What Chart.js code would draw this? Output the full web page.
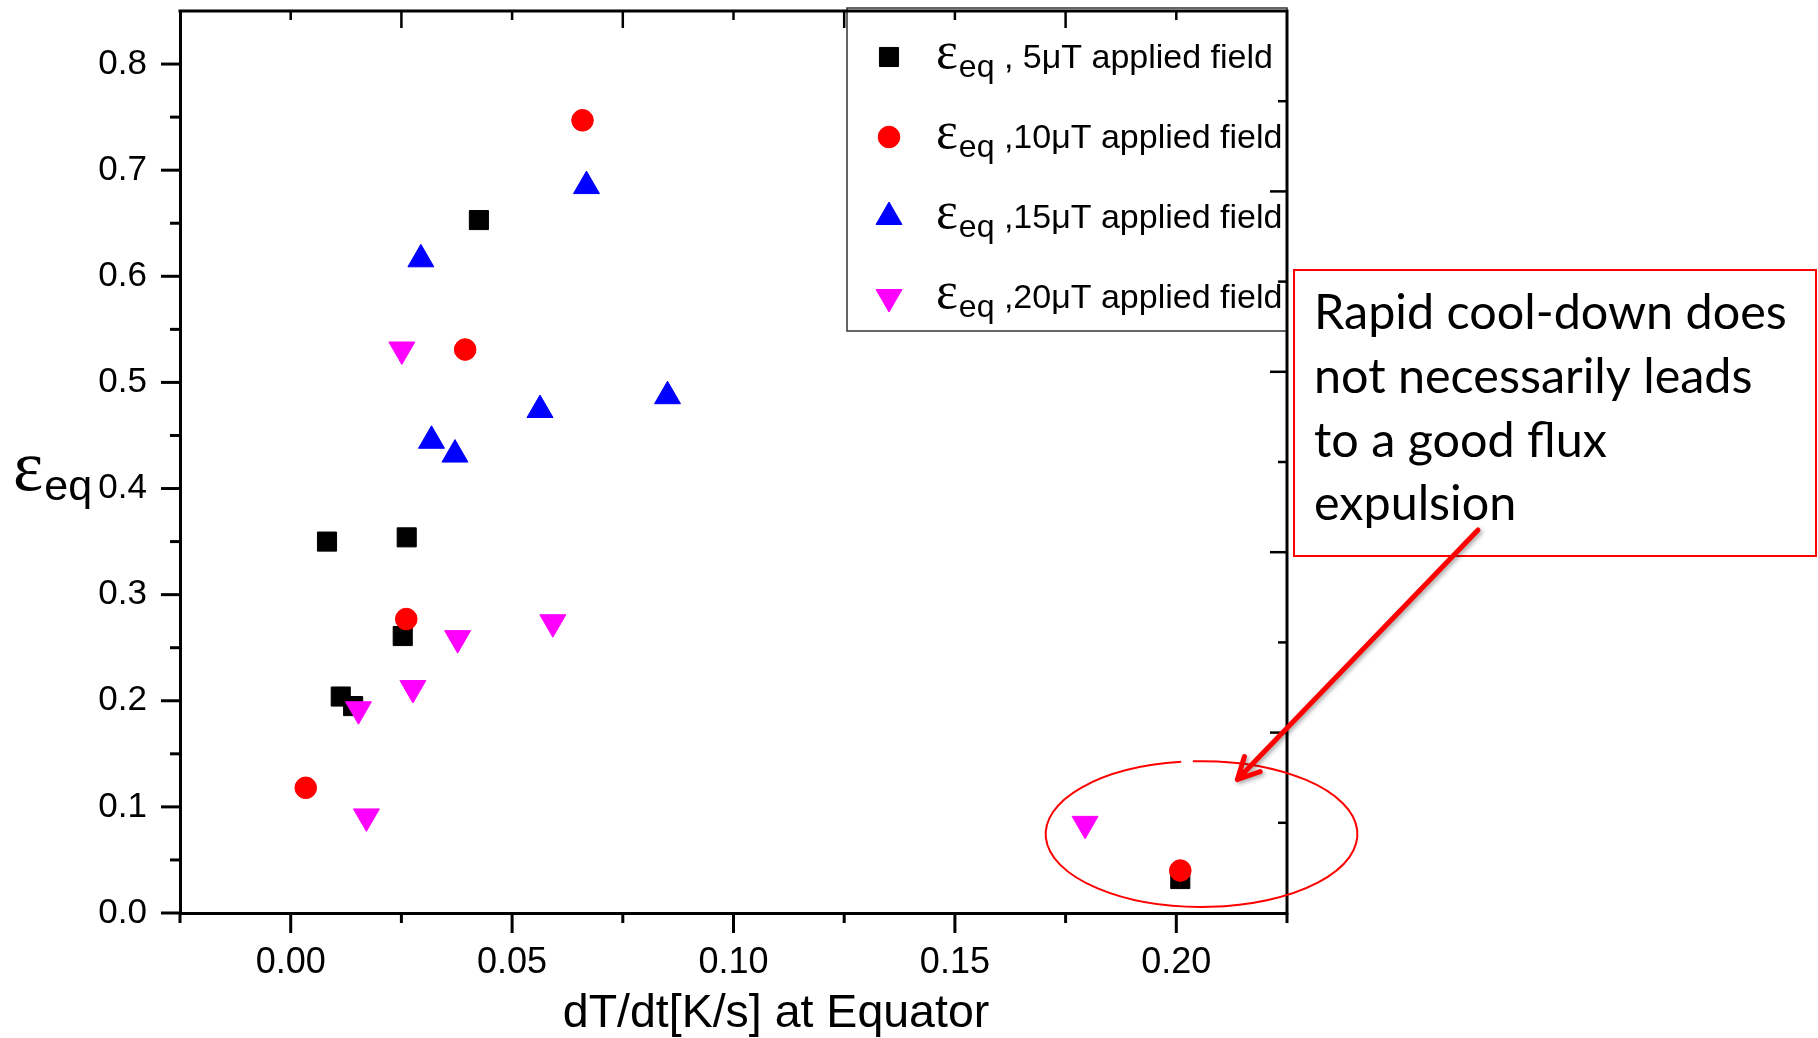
<!DOCTYPE html>
<html>
<head>
<meta charset="utf-8">
<script src="https://cdn.jsdelivr.net/npm/chart.js@4.4.1/dist/chart.umd.min.js"></script>
<style>
  html, body { margin: 0; padding: 0; background: #fff; }
  #wrap { width: 1818px; height: 1038px; position: relative; }
</style>
</head>
<body>
<div id="wrap"><canvas id="c" width="1818" height="1038"></canvas></div>
<script>
// Equatorial flux expulsion ratio vs. cool-down rate, one series per applied field
const field5X  = [0.0082, 0.0262, 0.0425, 0.0253, 0.0113, 0.0141, 0.2009];
const field5Y  = [0.350, 0.354, 0.653, 0.261, 0.204, 0.195, 0.032];
const field10X = [0.0659, 0.0394, 0.0261, 0.0034, 0.2009];
const field10Y = [0.747, 0.531, 0.277, 0.118, 0.040];
const field15X = [0.0668, 0.0294, 0.0563, 0.0851, 0.0318, 0.0371];
const field15Y = [0.685, 0.616, 0.474, 0.487, 0.445, 0.432];
const field20X = [0.0251, 0.0377, 0.0592, 0.0276, 0.0153, 0.0171, 0.1794];
const field20Y = [0.531, 0.259, 0.274, 0.212, 0.192, 0.091, 0.084];

const legendSuffix = [' , 5\u03BCT applied field', ' ,10\u03BCT applied field', ' ,15\u03BCT applied field', ' ,20\u03BCT applied field'];

// axis ticks
const xTickValues = [0, 0.05, 0.10, 0.15, 0.20];
const xTickLabels = ['0.00', '0.05', '0.10', '0.15', '0.20'];
const xMinorValues = [-0.025, 0.025, 0.075, 0.125, 0.175, 0.225];
const yTickValues = [0, 0.1, 0.2, 0.3, 0.4, 0.5, 0.6, 0.7, 0.8];
const yTickLabels = ['0.0', '0.1', '0.2', '0.3', '0.4', '0.5', '0.6', '0.7', '0.8'];
const yMinorValues = [0.05, 0.15, 0.25, 0.35, 0.45, 0.55, 0.65, 0.75];
// mirrored frame ticks (top and right edges)
const topLongValues = [0.025, 0.075, 0.125, 0.175];
const topShortValues = [0, 0.05, 0.10, 0.15, 0.20];
const rightLongValues = [0.170, 0.340, 0.510, 0.680];
const rightShortValues = [0.085, 0.255, 0.425, 0.595, 0.765];

// call-out
const noteLines = ['Rapid cool-down does', 'not necessarily leads', 'to a good flux', 'expulsion'];

const pts = (xs, ys) => xs.map((x, i) => ({ x, y: ys[i] }));

const SANS = '"Liberation Sans", Arial, sans-serif';
const SERIF = '"Liberation Serif", "Times New Roman", serif';

const styles = [
  { pointStyle: 'rect', radius: 13.5, rotation: 0, color: '#000000' },
  { pointStyle: 'circle', radius: 10.8, rotation: 0, color: '#ff0000' },
  { pointStyle: 'triangle', radius: 15, rotation: 0, color: '#0000ff' },
  { pointStyle: 'triangle', radius: 15, rotation: 180, color: '#ff00ff' }
];

const frame = {
  id: 'frame',
  afterDraw(chart) {
    const { ctx, chartArea: a, scales: { x, y } } = chart;
    ctx.save();

    // legend box
    const lgL = 847, lgT = 8, lgR = a.right, lgB = 331;
    ctx.fillStyle = '#fff';
    ctx.fillRect(lgL, lgT, lgR - lgL, lgB - lgT);
    ctx.strokeStyle = '#333';
    ctx.lineWidth = 1.5;
    ctx.strokeRect(lgL, lgT, lgR - lgL, lgB - lgT);

    const rowBase = [68, 148, 228, 308];
    styles.forEach((s, i) => {
      ctx.fillStyle = s.color;
      ctx.strokeStyle = s.color;
      ctx.lineWidth = 1;
      Chart.helpers.drawPoint(ctx, { pointStyle: s.pointStyle, radius: s.radius, rotation: s.rotation, borderWidth: 1 }, 889, rowBase[i] - 11);
      ctx.fillStyle = '#000';
      ctx.textBaseline = 'alphabetic';
      ctx.textAlign = 'left';
      let tx = 936;
      ctx.font = '52px ' + SERIF;
      ctx.fillText('\u03B5', tx, rowBase[i]);
      tx += ctx.measureText('\u03B5').width + 1;
      ctx.font = '32px ' + SANS;
      ctx.fillText('eq', tx, rowBase[i] + 9);
      tx += ctx.measureText('eq').width;
      ctx.font = '34px ' + SANS;
      ctx.fillText(legendSuffix[i], tx, rowBase[i]);
    });

    // top and right frame lines
    ctx.strokeStyle = '#000';
    ctx.lineWidth = 3;
    ctx.lineCap = 'square';
    ctx.beginPath();
    ctx.moveTo(a.left, a.top); ctx.lineTo(a.right, a.top); ctx.lineTo(a.right, a.bottom);
    ctx.stroke();
    ctx.lineCap = 'butt';

    const tick = (x1, y1, x2, y2) => { ctx.beginPath(); ctx.moveTo(x1, y1); ctx.lineTo(x2, y2); ctx.stroke(); };
    ctx.lineWidth = 3;
    // left axis (outward)
    yTickValues.forEach(v => { const p = y.getPixelForValue(v); tick(a.left - 19, p, a.left, p); });
    yMinorValues.forEach(v => { const p = y.getPixelForValue(v); tick(a.left - 10, p, a.left, p); });
    // bottom axis (outward)
    xTickValues.forEach(v => { const p = x.getPixelForValue(v); tick(p, a.bottom, p, a.bottom + 20); });
    xMinorValues.forEach(v => { const p = x.getPixelForValue(v); tick(p, a.bottom, p, a.bottom + 10); });
    // top edge (inward)
    ctx.lineWidth = 2.5;
    topLongValues.forEach(v => { const p = x.getPixelForValue(v); tick(p, a.top, p, a.top + 17); });
    topShortValues.forEach(v => { const p = x.getPixelForValue(v); tick(p, a.top, p, a.top + 9); });
    // right edge (inward)
    rightLongValues.forEach(v => { const p = y.getPixelForValue(v); tick(a.right - 17, p, a.right, p); });
    rightShortValues.forEach(v => { const p = y.getPixelForValue(v); tick(a.right - 9, p, a.right, p); });

    // axis titles
    ctx.fillStyle = '#000';
    ctx.textAlign = 'center';
    ctx.textBaseline = 'alphabetic';
    ctx.font = '46.5px ' + SANS;
    ctx.fillText('dT/dt[K/s] at Equator', 776, 1027);

    ctx.textAlign = 'left';
    ctx.font = '72px ' + SERIF;
    ctx.fillText('\u03B5', 13, 490);
    const ew = ctx.measureText('\u03B5').width;
    ctx.font = '43px ' + SANS;
    ctx.fillText('eq', 13 + ew + 1, 500);

    // ellipse around the fast cool-down points
    const ex = x.getPixelForValue(0.2057), ey = y.getPixelForValue(0.0744);
    const erx = x.getPixelForValue(0.2057 + 0.0352) - ex;
    const ery = ey - y.getPixelForValue(0.0744 + 0.0687);
    ctx.strokeStyle = '#ff0000';
    ctx.lineWidth = 2;
    ctx.beginPath();
    ctx.ellipse(ex, ey, erx, ery, 0, -93.2 * Math.PI / 180, 262.5 * Math.PI / 180);
    ctx.stroke();

    // call-out box
    const bL = 1294, bT = 270, bR = 1816, bB = 556;
    ctx.lineWidth = 2;
    ctx.strokeRect(bL, bT, bR - bL, bB - bT);
    ctx.fillStyle = '#000';
    ctx.font = '48.5px Lato, "Open Sans", sans-serif';
    noteLines.forEach((t, i) => ctx.fillText(t, 1314, 329 + i * 63.8));

    // arrow from the call-out to the ellipse
    const tx0 = x.getPixelForValue(0.2138), ty0 = y.getPixelForValue(0.1258);
    const sx = 1478, sy = 530;
    const ang = Math.atan2(sy - ty0, sx - tx0);
    ctx.save();
    ctx.shadowColor = 'rgba(0,0,0,0.35)';
    ctx.shadowBlur = 4;
    ctx.shadowOffsetX = 2;
    ctx.shadowOffsetY = 2;
    ctx.strokeStyle = '#ff0000';
    ctx.lineWidth = 5;
    ctx.lineCap = 'round';
    ctx.lineJoin = 'round';
    ctx.beginPath();
    ctx.moveTo(sx, sy); ctx.lineTo(tx0, ty0);
    ctx.moveTo(tx0 + 24 * Math.cos(ang - 0.47), ty0 + 24 * Math.sin(ang - 0.47));
    ctx.lineTo(tx0, ty0);
    ctx.lineTo(tx0 + 24 * Math.cos(ang + 0.47), ty0 + 24 * Math.sin(ang + 0.47));
    ctx.stroke();
    ctx.restore();

    ctx.restore();
  }
};

const mkSet = (label, xs, ys, s, order) => ({
  label,
  data: pts(xs, ys),
  pointStyle: s.pointStyle,
  pointRadius: s.radius,
  pointRotation: s.rotation,
  backgroundColor: s.color,
  borderColor: s.color,
  borderWidth: 1,
  showLine: false,
  order
});

new Chart(document.getElementById('c'), {
  type: 'scatter',
  data: {
    datasets: [
      mkSet('5\u03BCT', field5X, field5Y, styles[0], 4),
      mkSet('10\u03BCT', field10X, field10Y, styles[1], 3),
      mkSet('15\u03BCT', field15X, field15Y, styles[2], 2),
      mkSet('20\u03BCT', field20X, field20Y, styles[3], 1)
    ]
  },
  options: {
    responsive: false,
    animation: false,
    devicePixelRatio: 1,
    layout: { autoPadding: false, padding: { left: 0, top: 11, right: 531, bottom: 0 } },
    plugins: { legend: { display: false }, tooltip: { enabled: false } },
    scales: {
      x: {
        type: 'linear', position: 'bottom', min: -0.025, max: 0.225,
        afterFit(s) { s.height = 125; s.paddingLeft = 0; s.paddingRight = 0; },
        afterBuildTicks(s) { s.ticks = xTickValues.map(v => ({ value: v })); },
        ticks: {
          callback: (v, i) => xTickLabels[i],
          font: { family: SANS, size: 36 }, color: '#000', padding: 28,
          maxRotation: 0, autoSkip: false
        },
        grid: { display: false, drawTicks: false },
        border: { display: true, color: '#000', width: 3 }
      },
      y: {
        type: 'linear', position: 'left', min: 0, max: 0.85,
        afterFit(s) { s.width = 180; s.paddingTop = 0; s.paddingBottom = 0; },
        afterBuildTicks(s) { s.ticks = yTickValues.map(v => ({ value: v })); },
        ticks: {
          callback: (v, i) => yTickLabels[i],
          font: { family: SANS, size: 35 }, color: '#000', padding: 33,
          autoSkip: false
        },
        grid: { display: false, drawTicks: false },
        border: { display: true, color: '#000', width: 3 }
      }
    }
  },
  plugins: [frame]
});
</script>
</body>
</html>
